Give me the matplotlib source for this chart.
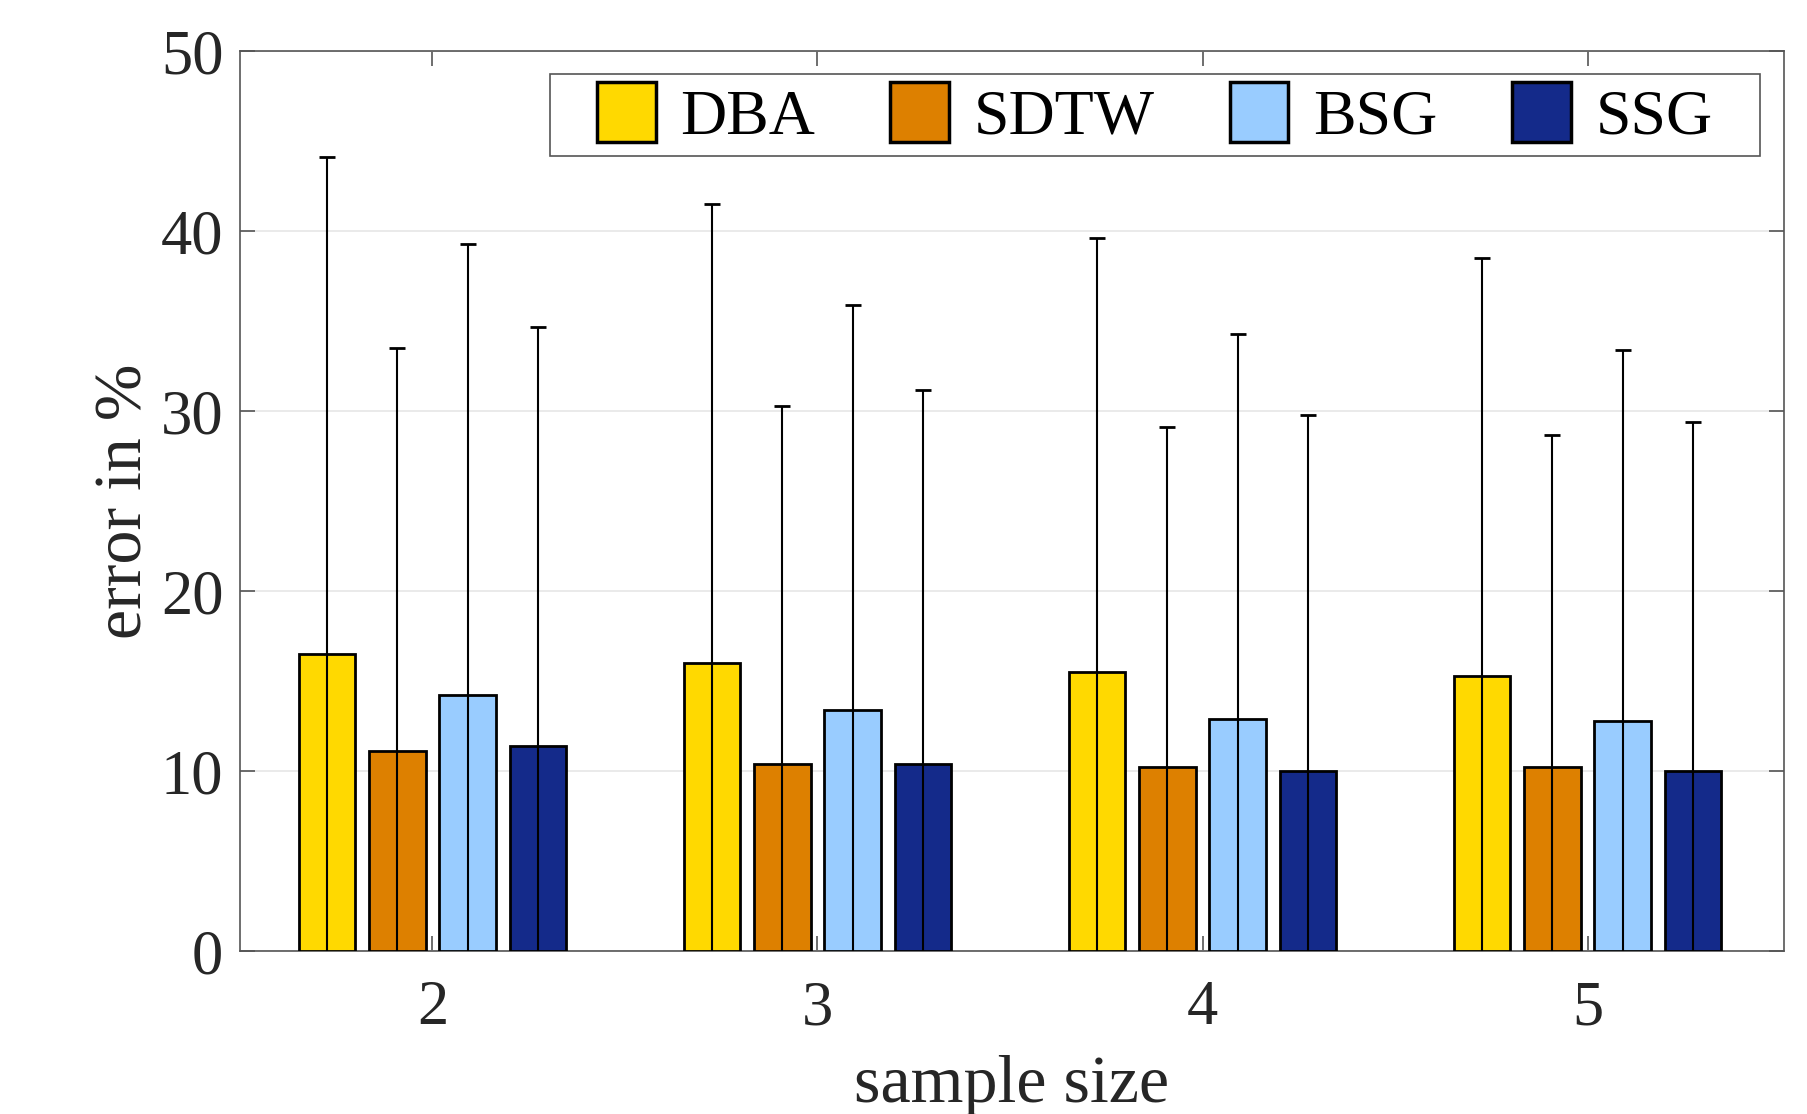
import numpy as np
import matplotlib.pyplot as plt
from matplotlib.patches import Rectangle

plt.rcParams['font.family'] = ['Liberation Serif', 'DejaVu Serif']

sample_sizes = [2, 3, 4, 5]
methods = ['DBA', 'SDTW', 'BSG', 'SSG']
colors = ['#FFD900', '#DD8000', '#99CCFF', '#142A8A']

# mean error in % per method, one value per sample size
dba_mean = [16.5, 16.0, 15.5, 15.3]
sdtw_mean = [11.1, 10.4, 10.2, 10.2]
bsg_mean = [14.2, 13.4, 12.9, 12.8]
ssg_mean = [11.4, 10.4, 10.0, 10.0]

# upper end of the error bars
dba_top = [44.1, 41.5, 39.6, 38.5]
sdtw_top = [33.5, 30.3, 29.1, 28.7]
bsg_top = [39.3, 35.9, 34.3, 33.4]
ssg_top = [34.7, 31.2, 29.8, 29.4]

means = [dba_mean, sdtw_mean, bsg_mean, ssg_mean]
tops = [dba_top, sdtw_top, bsg_top, ssg_top]

fig = plt.figure(figsize=(18.08, 11.14), dpi=100)
ax = fig.add_axes([0.1327, 0.1463, 0.8540, 0.8077])

x = np.array(sample_sizes, dtype=float)
step = 0.1826
width = 0.147
for i in range(4):
    m = np.array(means[i])
    err = np.array(tops[i]) - m
    ax.bar(x + (i - 1.5) * step, m, width, color=colors[i],
           edgecolor='black', linewidth=2, label=methods[i], zorder=3)
    ax.errorbar(x + (i - 1.5) * step, m, yerr=err, fmt='none',
                ecolor='black', elinewidth=1.5, capsize=6, capthick=2,
                zorder=4)

ax.set_xlim(1.5, 5.51)
ax.set_ylim(0, 50)
ax.set_xticks(sample_sizes)
ax.set_yticks([0, 10, 20, 30, 40, 50])
ax.yaxis.grid(True, color='#e6e6e6', linewidth=1.2, zorder=0)
ax.set_axisbelow(True)

for s in ax.spines.values():
    s.set_color('#555555')
    s.set_linewidth(1.2)
ax.tick_params(direction='in', length=11, width=1.2, color='#555555',
               top=True, right=True, labelsize=45, labelcolor='#262626')
ax.tick_params(axis='x', pad=21)
ax.tick_params(axis='y', pad=12)

ax.set_xlabel('sample size', fontsize=49, color='#262626', labelpad=12)
ax.set_ylabel('error in %', fontsize=49, color='#262626', labelpad=4)

# legend frame drawn separately so it can be wider than the entries
box_x0, box_x1 = 0.2009, 0.9843
box_y0, box_y1 = 0.8835, 0.9744
ax.add_patch(Rectangle((box_x0, box_y0), box_x1 - box_x0, box_y1 - box_y0,
                       transform=ax.transAxes, facecolor='white',
                       edgecolor='#555555', linewidth=1.2, zorder=5))
leg = ax.legend(loc='center', ncol=4, fontsize=46, frameon=False,
                handlelength=0.92, handleheight=1.05, columnspacing=1.17,
                handletextpad=0.39, borderpad=0, borderaxespad=0,
                bbox_to_anchor=((box_x0 + box_x1) / 2, (box_y0 + box_y1) / 2))
leg.set_zorder(6)
for p in leg.get_patches():
    p.set_linewidth(2.5)

fig.savefig('out.png', dpi=100)
